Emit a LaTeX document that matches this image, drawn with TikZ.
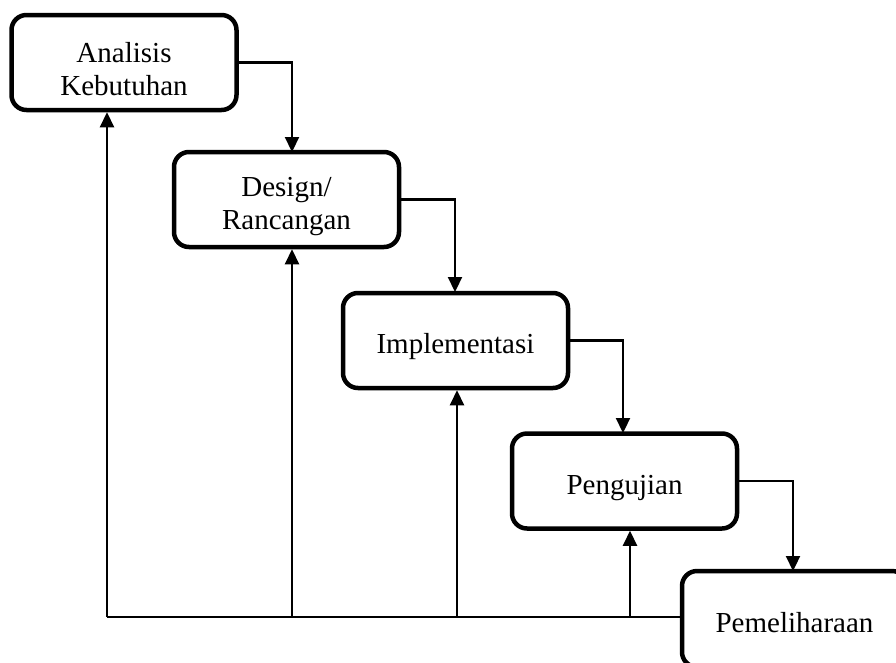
\documentclass[tikz,border=0pt]{standalone}
\usepackage{fontspec}
\setmainfont{Liberation Serif}
\usetikzlibrary{arrows.meta,calc}
\begin{document}
\begin{tikzpicture}[x=1pt,y=-1pt,
  stage/.style={draw,line width=4.5pt,rounded corners=15pt,minimum width=225pt,minimum height=95pt,
    inner sep=0pt},
  lbl/.style={inner sep=0pt,align=center,font=\fontsize{29}{33}\selectfont},
  flow/.style={line width=2.2pt,-{Triangle[length=15pt,width=14pt]}},
  plain/.style={line width=2.2pt}]
\useasboundingbox (0,0) rectangle (896,662);
\clip (0,0) rectangle (896,662);
\node[stage] (a) at (124,62.5) {};
\node[stage] (b) at (286.5,199.5) {};
\node[stage] (c) at (455.5,340.5) {};
\node[stage] (d) at (624.5,481) {};
\node[stage,minimum height=96pt] (e) at (794.5,619) {};
\node[lbl] (at) at ([yshift=-6.5pt]a.center) {Analisis\\Kebutuhan};
\node[lbl] (bt) at ([yshift=-7.5pt]b.center) {Design/\\Rancangan};
\node[lbl] (ct) at ([yshift=-6pt]c.center) {Implementasi};
\node[lbl] (dt) at ([yshift=-7pt]d.center) {Pengujian};
\node[lbl] (et) at ([yshift=-4pt]e.center) {Pemeliharaan};
% forward flow
\coordinate (t2) at (292,152);
\coordinate (t3) at (455,292);
\coordinate (t4) at (623,433);
\coordinate (t5) at (793,571);
\draw[flow] (a.east) -| (t2);
\draw[flow] (b.east) -| (t3);
\draw[flow] (c.east) -| (t4);
\draw[flow] (d.east) -| (t5);
% feedback
\coordinate (f1) at (107,617);
\coordinate (f2) at (292,617);
\coordinate (f3) at (457,617);
\coordinate (f4) at (630,617);
\draw[plain] (e.west |- f1) -- (f1);
\draw[flow] (f1) -- (f1 |- a.south);
\draw[flow] (f2) -- (f2 |- b.south);
\draw[flow] (f3) -- (f3 |- c.south);
\draw[flow] (f4) -- (f4 |- d.south);
\end{tikzpicture}
\end{document}
